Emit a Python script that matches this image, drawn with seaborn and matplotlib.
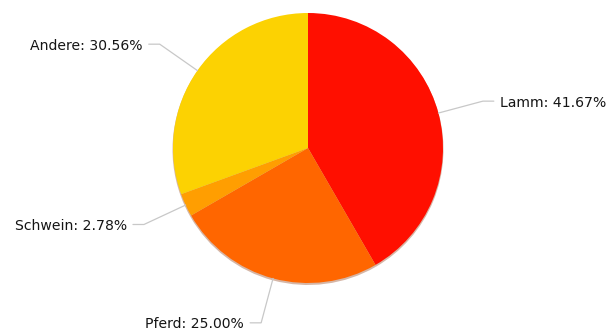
import numpy as np
import matplotlib
matplotlib.use("Agg")
import matplotlib.pyplot as plt
import seaborn as sns

sns.set_theme(style="white")
plt.rcParams["font.family"] = ["DejaVu Sans"]

# Meat types and their shares (counts)
categories = ["Lamm", "Pferd", "Schwein", "Andere"]
counts = [15, 9, 1, 11]
colors = ["#FF0F00", "#FF6600", "#FF9E01", "#FCD202"]

W, H = 614, 335
fig = plt.figure(figsize=(W / 100, H / 100), dpi=100)
ax = fig.add_axes([0, 0, 1, 1])

cx, cy, r = 308, H - 148, 135

# soft drop shadow under the pie
ax.pie(counts, center=(cx, cy - 1.5), radius=r + 0.5, startangle=90,
       counterclock=False, colors=["#8a3000"] * len(counts),
       wedgeprops=dict(linewidth=0, alpha=0.35), frame=True)

wedges, _ = ax.pie(counts, center=(cx, cy), radius=r, startangle=90,
                   counterclock=False, colors=colors,
                   wedgeprops=dict(linewidth=0), frame=True)
ax.set_xlim(0, W)
ax.set_ylim(0, H)
ax.set_aspect("equal")
ax.axis("off")

total = sum(counts)
for w, name, c in zip(wedges, categories, counts):
    pct = 100 * c / total
    ang = np.deg2rad((w.theta1 + w.theta2) / 2)
    x0, y0 = cx + r * np.cos(ang), cy + r * np.sin(ang)
    re = r + 46
    x1, y1 = cx + re * np.cos(ang), cy + re * np.sin(ang)
    side = 1 if np.cos(ang) > 0 else -1
    x2 = x1 + side * 11
    ax.plot([x0, x1, x2], [y0, y1, y1], color="#c8c8c8", lw=0.9,
            solid_joinstyle="miter")
    ax.text(x2 + side * 6, y1 - 1.5, f"{name}: {pct:.2f}%",
            ha="left" if side > 0 else "right",
            va="center", fontsize=10.1, color="#151515")

fig.savefig("out.png", dpi=100)
